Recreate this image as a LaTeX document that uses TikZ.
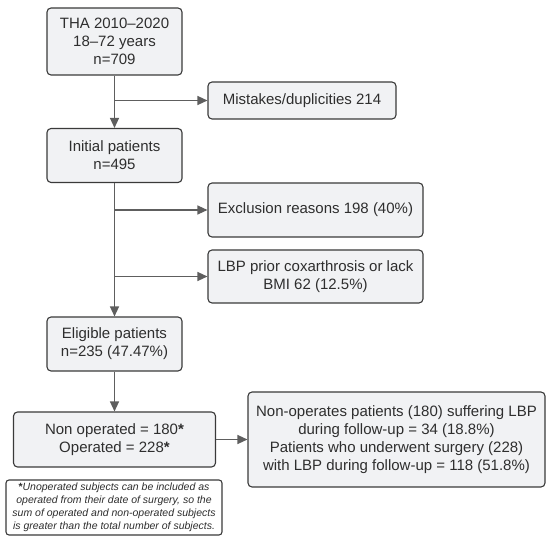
\documentclass[tikz,border=0pt]{standalone}
\usepackage{fontspec}
\setmainfont{Liberation Sans}
\usetikzlibrary{arrows.meta}
\definecolor{boxfill}{HTML}{F1F2F4}
\definecolor{boxline}{HTML}{3A3A3A}
\definecolor{arrowgray}{HTML}{5E5E5E}
\definecolor{txt}{HTML}{2E2E2E}

\begin{document}
\begin{tikzpicture}[x=1pt,y=-1pt,
  box/.style={draw=boxline,fill=boxfill,line width=1.1pt,rounded corners=4pt,
    align=center,inner sep=2pt,text=txt,font=\fontsize{15}{18}\selectfont},
  note/.style={draw=boxline,fill=white,line width=1.1pt,rounded corners=3pt,
    align=center,inner sep=2pt,text=txt,font=\fontsize{10.5}{13}\selectfont\itshape},
  arr/.style={draw=arrowgray,line width=1.3pt,-{Triangle[length=10pt,width=9pt]}}]
\useasboundingbox (0,0) rectangle (550,540);

 \node[box,minimum width=135pt,minimum height=67pt] (tha) at (114.5,41.5) {THA 2010--2020\\18--72 years\\n=709};
 \node[box,minimum width=188pt,minimum height=37pt] (mistakes) at (302,100.5) {Mistakes/duplicities 214};
 \node[box,minimum width=135pt,minimum height=54pt] (initial) at (114.5,155.5) {Initial patients\\n=495};
 \node[box,minimum width=215pt,minimum height=54pt] (exclusion) at (315.5,210) {Exclusion reasons 198 (40\%)};
 \node[box,minimum width=215pt,minimum height=53pt] (lbp) at (315.5,276.5) {LBP prior coxarthrosis or lack\\BMI 62 (12.5\%)};
 \node[box,minimum width=135pt,minimum height=54pt] (eligible) at (114.5,344) {Eligible patients\\n=235 (47.47\%)};
 \node[box,minimum width=202pt,minimum height=55pt] (nonop) at (114.5,439.5) {Non operated = 180\textbf{*}\\Operated = 228\textbf{*}};
 \node[box,minimum width=297pt,minimum height=95pt] (result) at (396.5,439.5) {Non-operates patients (180) suffering LBP\\during follow-up = 34 (18.8\%)\\Patients who underwent surgery (228)\\with LBP during follow-up = 118 (51.8\%)};
 \node[note,minimum width=216pt,minimum height=55pt] (footnote) at (114,507.5) {{\upshape\textbf{*}}Unoperated subjects can be included as\\operated from their date of surgery, so the\\sum of operated and non-operated subjects\\is greater than the total number of subjects.};

 % main line and side branches
 \coordinate (b1) at (tha.south |- mistakes.west);
 \coordinate (b2) at (initial.south |- exclusion.west);
 \coordinate (b3) at (initial.south |- lbp.west);
 \draw[arr] (tha.south)--(initial.north);
 \draw[arr] (b1)--(mistakes.west);
 \draw[arr] (initial.south)--(eligible.north);
 \draw[arr] (b2)--(exclusion.west);
 \draw[arr] (b3)--(lbp.west);
 \draw[arr] (eligible.south)--(nonop.north);
 \draw[arr] (nonop.east)--(result.west);

\end{tikzpicture}
\end{document}
